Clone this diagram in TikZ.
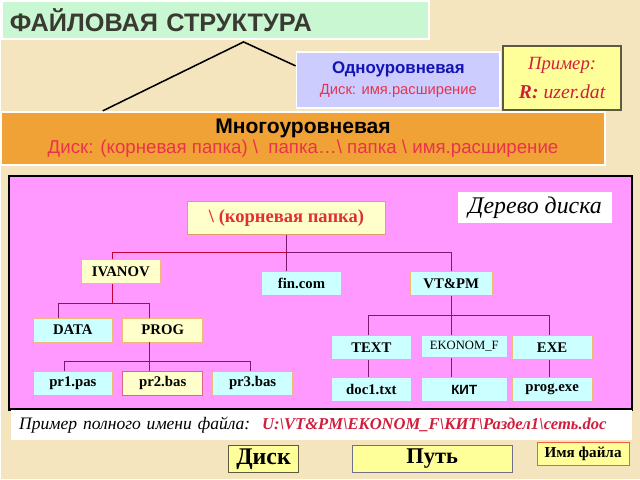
\documentclass[tikz,border=0pt]{standalone}
\usepackage{fontspec}
\setmainfont{Liberation Serif}
\setsansfont{Liberation Sans}
\usetikzlibrary{calc}

\definecolor{bgbeige}{HTML}{F5E5BE}
\definecolor{mint}{HTML}{C8F7D2}
\definecolor{titlegray}{HTML}{3A3A32}
\definecolor{lavender}{HTML}{CCCCFF}
\definecolor{royal}{HTML}{1414B4}
\definecolor{redtext}{HTML}{E8344A}
\definecolor{lemon}{HTML}{FFFF99}
\definecolor{exred}{HTML}{D01E3C}
\definecolor{exedge}{HTML}{5C5A40}
\definecolor{ochre}{HTML}{F0A236}
\definecolor{pinkpanel}{HTML}{FF99FF}
\definecolor{cream}{HTML}{FFFFCC}
\definecolor{icecyan}{HTML}{CCFFFF}
\definecolor{boxedge}{HTML}{F0B878}
\definecolor{rootedge}{HTML}{E0A060}
\definecolor{rootred}{HTML}{E03030}
\definecolor{crim}{HTML}{C4003C}
\definecolor{purp}{HTML}{7A1A6E}
\definecolor{pathedge}{HTML}{70708C}
\definecolor{nameedge}{HTML}{F06040}

\begin{document}
\begin{tikzpicture}[x=0.025cm, y=-0.025cm,
        panel/.style={draw=white, line width=1.2pt, font=\sffamily},
        dirbox/.style={draw=boxedge, fill=cream, minimum width=2cm, minimum height=0.6cm,
            inner sep=1pt, font=\bfseries\fontsize{10.5}{12}\selectfont},
        filebox/.style={dirbox, fill=icecyan},
        crimline/.style={draw=crim, line width=0.9pt},
        purpline/.style={draw=purp, line width=0.9pt},
        tagbox/.style={draw=exedge, fill=lemon, inner sep=1pt}
    ]

    % background
    \fill[bgbeige] (0,0) rectangle (640,480);

    % headings
    \node[panel, fill=mint, anchor=north west, minimum width=10.7cm, minimum height=0.95cm,
        inner xsep=0.2cm, text width=10.3cm, align=left, text=titlegray,
        font=\sffamily\bfseries\fontsize{18}{20}\selectfont] (title) at (0,0) {ФАЙЛОВАЯ СТРУКТУРА};

    \node[panel, fill=lavender, minimum width=5.1cm, minimum height=1.4cm, align=center] (single) at (398,80)
        {{\bfseries\fontsize{12}{14}\selectfont\color{royal}Одноуровневая}\\[3pt]
         {\fontsize{10.5}{12}\selectfont\color{redtext}Диск: имя.расширение}};

    \node[tagbox, line width=1pt, minimum width=2.95cm, minimum height=1.6cm, align=center,
        text=exred, font=\itshape] (ex1) at (562,78)
        {{\fontsize{13.3}{15}\selectfont Пример:}\\[7pt]{\fontsize{14}{16}\selectfont\textbf{R:} uzer.dat}};

    \node[panel, fill=ochre, minimum width=15.125cm, minimum height=1.325cm, align=center] (multi) at (302.5,138.5)
        {{\bfseries\fontsize{15}{17}\selectfont Многоуровневая}\\[1pt]
         {\fontsize{13.3}{15}\selectfont\color{redtext}Диск: (корневая папка) \textbackslash\ \ папка…\textbackslash\ папка \textbackslash\ имя.расширение}};

    \coordinate (peak) at (243,42);
    \coordinate (lend) at (102,111);
    \draw[line width=1.1pt] (lend) -- (peak) -- ($(single.west)+(0,-14)$);

    % tree panel
    \draw[line width=1.6pt, fill=pinkpanel] (8,176) rectangle (632,410);

    \node[fill=white, minimum width=3.85cm, minimum height=0.725cm,
        font=\itshape\fontsize{17}{19}\selectfont] (treename) at (535,208) {Дерево диска};

    \node[dirbox, draw=rootedge, minimum width=4.95cm, minimum height=0.825cm, text=rootred,
        font=\bfseries\fontsize{13.2}{15}\selectfont] (root) at (286,218.5) {\textbackslash\ (корневая папка)};

    \node[dirbox] (ivanov) at (120,272) {IVANOV};
    \node[filebox] (fincom) at (301,284) {fin.com};
    \node[filebox, minimum width=2.05cm] (vtpm) at (451,284) {VT\&PM};

    \node[filebox] (data) at (72,330.5) {DATA};
    \node[dirbox] (prog) at (162,330.5) {PROG};

    \node[filebox] (pr1) at (72,384) {pr1.pas};
    \node[dirbox, draw=crim!60] (pr2) at (162,384) {pr2.bas};
    \node[filebox] (pr3) at (252,384) {pr3.bas};

    \node[filebox] (text) at (371,348) {TEXT};
    \node[filebox, minimum width=2.15cm, minimum height=0.55cm,
        font=\fontsize{9}{10}\selectfont] (ekonom) at (464,347) {EKONOM\_F};
    \node[filebox] (exe) at (552,348) {EXE};

    \node[filebox] (doc1) at (371,390) {doc1.txt};
    \node[filebox, minimum width=2.15cm, font=\sffamily\bfseries\fontsize{9.5}{11}\selectfont] (kit) at (464,390) {КИТ};
    \node[filebox] (progexe) at (552,390) {prog.exe};

    % connectors
    \coordinate (bar1) at (0,253);
    \draw[purpline] (root.south) -- (root.south |- fincom.north);
    \draw[purpline] (root.south |- bar1) -| (vtpm.north);
    \draw[crimline] (root.south |- bar1) -| ($(ivanov.north)+(-8,0)$);

    \draw[crimline] ($(ivanov.south)+(-8,0)$) coordinate (iv) -- ($(iv)+(0,20)$) -| ($(prog.north)+(-13,0)$);
    \draw[purpline] ($(iv)+(0,20)$) -| ($(data.north)+(-14,0)$);

    \draw[crimline] ($(prog.south)+(-13,0)$) -- ($(pr2.north)+(-13,0)$);
    \draw[purpline] ($(pr1.north)+(-8,0)$) |- ($(pr3.north)+(-2,-10)$) -- ($(pr3.north)+(-2,0)$);

    \draw[purpline] (vtpm.south) -- (vtpm.south |- ekonom.north);
    \draw[purpline] ($(text.north)+(-3,0)$) |- ($(exe.north)+(-3,-20)$) -- ($(exe.north)+(-3,0)$);
    \draw[purpline] ($(text.south)+(-3,0)$) -- ($(doc1.north)+(-3,0)$);
    \draw[purpline] (vtpm.south |- ekonom.south) -- (vtpm.south |- kit.north);
    \draw[purpline] ($(exe.south)+(-3,0)$) -- ($(progexe.north)+(-3,0)$);

    % full name example
    \node[fill=white, anchor=north west, minimum width=15.55cm, minimum height=0.75cm,
        inner xsep=0.2cm, text width=15.15cm, align=left,
        font=\itshape\fontsize{12.5}{15}\selectfont] (fullname) at (10,410)
        {Пример полного имени файла:\ \ {\color{exred}\bfseries\fontsize{11.8}{14}\selectfont U:\textbackslash VT\&PM\textbackslash EKONOM\_F\textbackslash КИТ\textbackslash Раздел1\textbackslash сеть.doc}};

    % legend
    \node[tagbox, minimum width=1.75cm, minimum height=0.675cm,
        font=\bfseries\fontsize{17}{19}\selectfont] (disk) at (263,459.5) {Диск};
    \node[tagbox, draw=pathedge, minimum width=4cm, minimum height=0.675cm,
        font=\bfseries\fontsize{16}{18}\selectfont] (path) at (432,459.5) {Путь};
    \node[tagbox, draw=nameedge, minimum width=2.3cm, minimum height=0.575cm,
        font=\bfseries\fontsize{10.8}{12}\selectfont] (fname) at (583,454.5) {Имя файла};

\end{tikzpicture}
\end{document}
